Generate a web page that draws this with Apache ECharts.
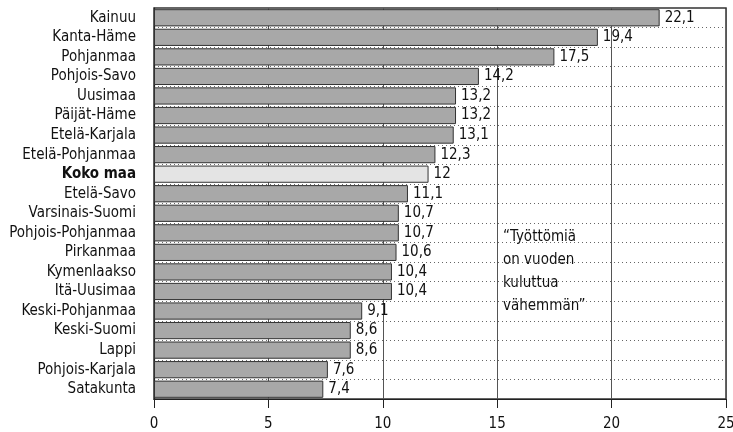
<!DOCTYPE html>
<html>
<head>
<meta charset="utf-8">
<script src="https://cdn.jsdelivr.net/npm/echarts@6/dist/echarts.min.js"></script>
<style>html,body{margin:0;padding:0;background:#fff}#c{width:733px;height:432px}</style>
</head>
<body>
<div id="c"></div>
<script>
const categories = ["Kainuu","Kanta-Häme","Pohjanmaa","Pohjois-Savo","Uusimaa","Päijät-Häme","Etelä-Karjala","Etelä-Pohjanmaa","Koko maa","Etelä-Savo","Varsinais-Suomi","Pohjois-Pohjanmaa","Pirkanmaa","Kymenlaakso","Itä-Uusimaa","Keski-Pohjanmaa","Keski-Suomi","Lappi","Pohjois-Karjala","Satakunta"];
const values = [22.1,19.4,17.5,14.2,13.2,13.2,13.1,12.3,12,11.1,10.7,10.7,10.6,10.4,10.4,9.1,8.6,8.6,7.6,7.4];
const highlight = "Koko maa";
const xTicks = [0,5,10,15,20,25];
const noteLines = ["\u201cTyöttömiä","on vuoden","kuluttua","vähemmän\u201d"];

const FONT = '"Liberation Sans Narrow","DejaVu Sans Condensed","Noto Sans",sans-serif';
const chart = echarts.init(document.getElementById('c'));
chart.setOption({
  animation:false,
  grid:{left:154,right:7,top:8,bottom:33,show:true,borderColor:'#333',borderWidth:1.5,containLabel:false,outerBoundsMode:'none'},
  xAxis:{type:'value',min:xTicks[0],max:xTicks[xTicks.length-1],interval:5,
    axisLine:{show:true,lineStyle:{color:'#222',width:1.2}},
    axisTick:{show:true,length:9,lineStyle:{color:'#222'}},
    axisLabel:{fontFamily:FONT,fontSize:15,color:'#111',margin:18},
    splitLine:{show:true,lineStyle:{color:'#555',width:1}}},
  yAxis:{type:'category',data:categories,inverse:true,
    axisLine:{show:true,lineStyle:{color:'#222',width:1.2}},
    axisTick:{show:false},
    axisLabel:{fontFamily:FONT,fontSize:15,color:'#111',margin:18,
      formatter:v=>v===highlight?'{b|'+v+'}':v,
      rich:{b:{fontFamily:FONT,fontSize:15,fontWeight:'bold',color:'#111'}}},
    splitLine:{show:true,lineStyle:{color:'#666',type:[1,3],width:1}}},
  series:[{type:'bar',barCategoryGap:'12%',
    data:values.map((v,i)=>({value:v,itemStyle:categories[i]===highlight?{color:'#e4e4e4'}:{}})),
    itemStyle:{color:'#a8a8a8',borderColor:'#333',borderWidth:1},
    label:{show:true,position:'right',distance:5,fontFamily:FONT,fontSize:15,color:'#111',
      formatter:p=>String(p.value).replace('.',',')}}],
  graphic:[{type:'text',left:503,top:226,silent:true,
    style:{text:noteLines.join('\n'),fontFamily:FONT,fontSize:15,lineHeight:23,fill:'#111'}}]
});
</script>
</body>
</html>
